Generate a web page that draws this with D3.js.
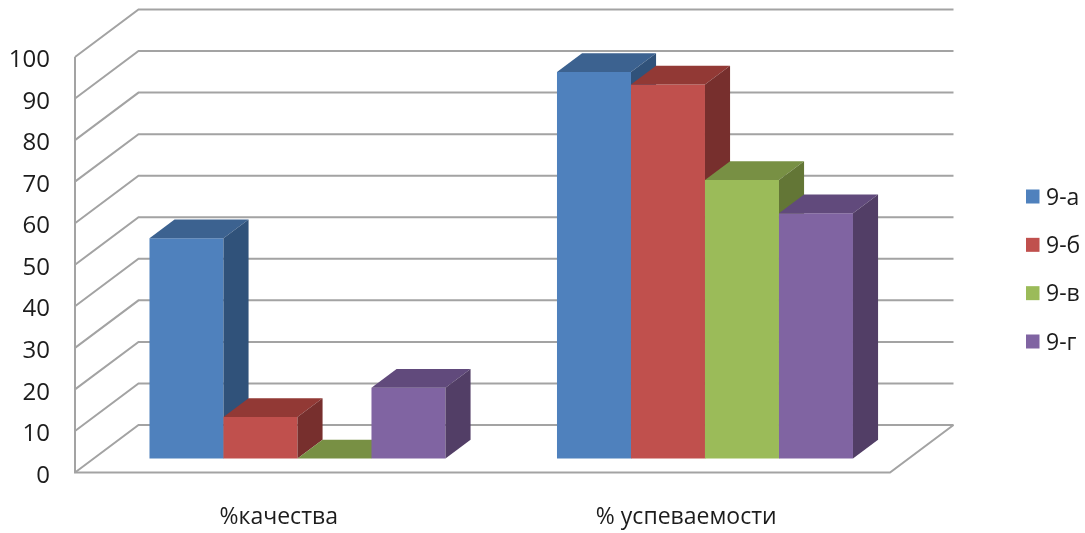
<!DOCTYPE html>
<html>
<head>
<meta charset="utf-8">
<script src="https://cdn.jsdelivr.net/npm/d3@7"></script>
<style>
  html, body { margin: 0; background: #fff; }
  svg { display: block; filter: blur(0.5px); }
  text { font-family: "Open Sans", sans-serif; fill: #1c1c1c; }
</style>
</head>
<body>
<script>
const categories = ["%качества", "% успеваемости"];
const seriesNames = ["9-а", "9-б", "9-в", "9-г"];
const values9a = [53, 93];
const values9b = [10, 90];
const values9v = [0, 67];
const values9g = [17, 59];
const allValues = [values9a, values9b, values9v, values9g];
const yTicks = [0, 10, 20, 30, 40, 50, 60, 70, 80, 90, 100];

const frontColors = ["#4f81bd", "#c0504d", "#9bbb59", "#8064a2"];
const topColors = ["#3c6290", "#923935", "#789044", "#614a7c"];
const sideColors = ["#30527a", "#772f2d", "#637636", "#523e66"];

const width = 1085;
const height = 533;

let svg = d3.select("body").append("svg")
  .attr("width", width)
  .attr("height", height);

let x0 = d3.scaleBand().domain(categories).range([75, 890]);
let y = d3.scaleLinear().domain([0, 100]).range([472.5, 57]);

// depth of the box: z 0 = front edge, z 1 = back wall
let zx = d3.scaleLinear().domain([0, 1]).range([0, 63.5]);
let zy = d3.scaleLinear().domain([0, 1]).range([0, -47.5]);
let pt = (px, py, z) => [px + zx(z), py + zy(z)];
let path = (pts) => d3.line()(pts) + "Z";

const barWidth = 74;
const zFront = 0.295;
const zBack = 0.69;
let seriesX = d3.scaleBand().domain(d3.range(seriesNames.length))
  .range([-barWidth * 2, barWidth * 2]);

// walls and floor
let grid = svg.append("g")
  .attr("fill", "none")
  .attr("stroke", "#a3a3a3")
  .attr("stroke-width", 2);

grid.selectAll(".wall")
  .data(yTicks)
  .join("path")
  .attr("class", "wall")
  .attr("d", (d) => d3.line()([
    [x0.range()[0], y(d)],
    pt(x0.range()[0], y(d), 1),
    pt(x0.range()[1], y(d), 1)
  ]));

grid.append("path")
  .attr("d", d3.line()([
    [x0.range()[0], y(100)],
    [x0.range()[0], y(0)],
    [x0.range()[1], y(0)],
    pt(x0.range()[1], y(0), 1)
  ]));

// bars, left to right so each one covers the side of the one before it
categories.forEach((cat, c) => {
  let cx = x0(cat) + x0.bandwidth() / 2;
  allValues.forEach((vals, s) => {
    let left = cx + seriesX(s);
    let right = left + barWidth;
    let base = y(0);
    let top = y(vals[c]);
    let g = svg.append("g");

    g.append("path")
      .attr("fill", frontColors[s])
      .attr("d", path([pt(left, base, zFront), pt(right, base, zFront), pt(right, top, zFront), pt(left, top, zFront)]));
    g.append("path")
      .attr("fill", topColors[s])
      .attr("d", path([pt(left, top, zFront), pt(right, top, zFront), pt(right, top, zBack), pt(left, top, zBack)]));
    g.append("path")
      .attr("fill", sideColors[s])
      .attr("d", path([pt(right, base, zFront), pt(right, base, zBack), pt(right, top, zBack), pt(right, top, zFront)]));
  });
});

// value axis labels
let yAxis = svg.append("g")
  .attr("transform", "translate(50,2)")
  .call(d3.axisLeft(y).tickValues(yTicks).tickSize(0).tickPadding(0).tickFormat(d3.format("d")));
yAxis.select(".domain").remove();
yAxis.selectAll("text")
  .style("font-family", "\"Open Sans\", sans-serif")
  .style("font-size", "24px");

// category labels
let xAxis = svg.append("g")
  .attr("transform", "translate(0,516)")
  .call(d3.axisBottom(x0).tickSize(0).tickPadding(0));
xAxis.select(".domain").remove();
xAxis.selectAll("text")
  .attr("dy", "0.35em")
  .attr("y", 0)
  .style("font-family", "\"Open Sans\", sans-serif")
  .style("font-size", "23px");

// legend
let legendY = d3.scalePoint().domain(seriesNames).range([196.5, 341.5]);
let legend = svg.append("g")
  .selectAll("g")
  .data(seriesNames)
  .join("g")
  .attr("transform", (d) => `translate(1026,${legendY(d)})`);
legend.append("rect")
  .attr("y", -7)
  .attr("width", 13.5)
  .attr("height", 14)
  .attr("fill", (d, i) => frontColors[i]);
legend.append("text")
  .attr("x", 20)
  .attr("dy", "0.35em")
  .style("font-size", "23px")
  .text((d) => d);
</script>
</body>
</html>
